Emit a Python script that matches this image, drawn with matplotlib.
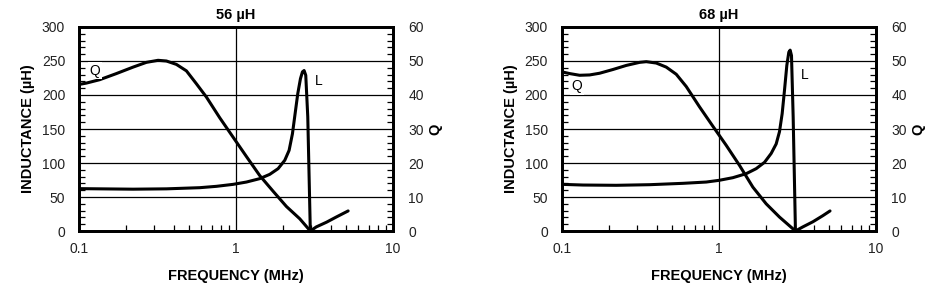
import numpy as np
import matplotlib
matplotlib.use("Agg")
import matplotlib.pyplot as plt
from matplotlib.ticker import MultipleLocator, FixedLocator, NullFormatter

plt.rcParams['font.family'] = ['Liberation Sans', 'DejaVu Sans']

# 56 uH part
f_L_56 = [0.1, 0.135, 0.221, 0.36, 0.587, 0.75, 0.957, 1.164, 1.415, 1.638, 1.852, 2.042, 2.176,
          2.285, 2.376, 2.471, 2.570, 2.646, 2.711, 2.778, 2.861, 2.97]
L_56 = [62.3, 62, 61.5, 62, 63.7, 65.7, 68.6, 72, 77, 83.3, 91.7, 104, 118.6,
        143, 172.5, 202, 224, 234, 236, 229, 168, 0]
f_Q_56 = [0.1, 0.1113, 0.1354, 0.1729, 0.2208, 0.2685, 0.3186, 0.36, 0.4169, 0.4828, 0.559,
          0.6471, 0.787, 0.957, 1.164, 1.415, 1.721, 2.093, 2.544, 2.97, 3.24, 3.77, 4.34, 5.17]
Q_56 = [43.1, 43.5, 44.5, 46.3, 48.2, 49.6, 50.2, 50.0, 49.0, 47.1, 43.3,
        39.4, 33.3, 27.6, 21.9, 16.3, 11.7, 7.2, 3.6, 0, 1.2, 2.6, 4.1, 5.9]

# 68 uH part
f_L_68 = [0.1, 0.136, 0.2217, 0.3612, 0.5886, 0.8286, 1.0, 1.2246, 1.4891, 1.724, 1.948, 2.147,
          2.311, 2.426, 2.523, 2.611, 2.702, 2.782, 2.837, 2.893, 2.965, 3.066]
L_68 = [68.6, 67.6, 67.2, 68.1, 70.1, 72, 74.5, 78.4, 84.3, 91.7, 101, 114,
        128, 146, 172.5, 207, 243.6, 263, 266, 258, 168, 0]
f_Q_68 = [0.1, 0.1119, 0.1295, 0.150, 0.1736, 0.2111, 0.2567, 0.312, 0.344, 0.3983, 0.4612,
          0.534, 0.6181, 0.7515, 0.9138, 1.111, 1.35, 1.642, 1.996, 2.426, 3.066, 3.415,
          3.954, 4.578, 5.09]
Q_68 = [46.8, 46.3, 45.8, 45.9, 46.4, 47.5, 48.7, 49.6, 49.8, 49.4, 48.2,
        46.1, 42.5, 36.5, 30.8, 25.2, 19.3, 12.9, 8.0, 4.1, 0, 1.2,
        2.7, 4.5, 5.9]

panels = [
    ("56 µH", f_L_56, L_56, f_Q_56, Q_56, (0.117, 236), (3.17, 221)),
    ("68 µH", f_L_68, L_68, f_Q_68, Q_68, (0.115, 213), (3.34, 229)),
]
lefts = [0.0848, 0.603]

fig = plt.figure(figsize=(9.32, 2.86), dpi=100)

for (title, fl, L, fq, Q, qpos, lpos), left in zip(panels, lefts):
    ax = fig.add_axes([left, 0.1923, 0.337, 0.7133])
    ax2 = ax.twinx()
    ax.set_xscale('log')
    ax.set_xlim(0.1, 10)
    ax.set_ylim(0, 300)
    ax2.set_ylim(0, 60)

    ax.set_zorder(2)
    ax.patch.set_visible(False)
    ax2.set_zorder(1)

    ax.plot(fl, L, color='black', lw=2.2, solid_joinstyle='round', solid_capstyle='round', zorder=4)
    ax2.plot(fq, Q, color='black', lw=2.2, solid_joinstyle='round', solid_capstyle='round', zorder=4)

    # grid
    ax.yaxis.set_major_locator(MultipleLocator(50))
    ax.yaxis.set_minor_locator(MultipleLocator(10))
    ax2.yaxis.set_major_locator(MultipleLocator(10))
    ax2.yaxis.set_minor_locator(MultipleLocator(2))
    ax.xaxis.set_major_locator(FixedLocator([0.1, 1, 10]))
    ax.xaxis.set_major_formatter(plt.FuncFormatter(lambda v, p: '%g' % v))
    ax.xaxis.set_minor_locator(FixedLocator([k * 10.0 ** d for d in (-1, 0) for k in range(2, 10)]))
    ax.xaxis.set_minor_formatter(NullFormatter())
    ax.grid(True, which='major', color='black', lw=0.9)

    ax.tick_params(axis='both', which='major', length=0, labelsize=10, pad=10, colors='#222222')
    ax.tick_params(axis='x', which='major', pad=8)
    ax.tick_params(axis='both', which='minor', direction='in', length=4, width=0.9)
    ax.tick_params(axis='y', which='minor', left=True, right=False)
    ax2.tick_params(axis='y', which='major', length=0, labelsize=10, pad=11, colors='#222222')
    ax2.tick_params(axis='y', which='minor', direction='in', length=4, width=0.9)

    for a in (ax, ax2):
        for s in a.spines.values():
            s.set_linewidth(2)
            s.set_color('black')

    ax.set_title(title, fontsize=10.5, fontweight='bold', pad=6)
    ax.set_xlabel('FREQUENCY (MHz)', fontsize=10.5, fontweight='bold', labelpad=9)
    ax.set_ylabel('INDUCTANCE (µH)', fontsize=10.5, fontweight='bold', labelpad=5)
    ax2.set_ylabel('Q', fontsize=10.5, fontweight='bold', rotation=90, labelpad=3)

    ax.text(qpos[0], qpos[1], 'Q', fontsize=10, ha='left', va='center', zorder=5,
            bbox=dict(facecolor='white', edgecolor='none', pad=1))
    ax.text(lpos[0], lpos[1], 'L', fontsize=10, ha='left', va='center', zorder=5)

fig.savefig('out.png', dpi=100)
